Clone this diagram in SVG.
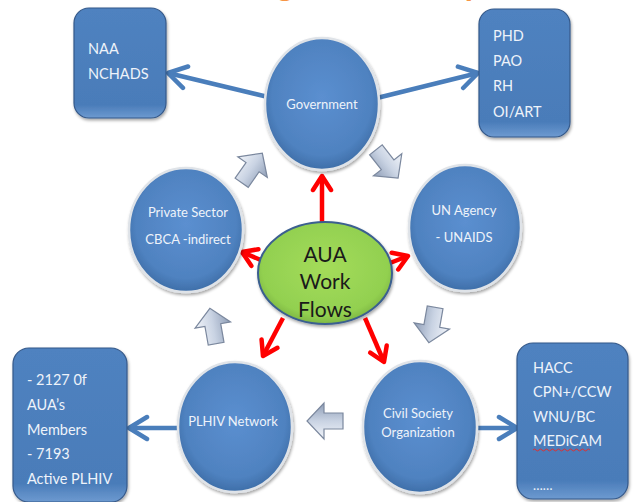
<svg xmlns="http://www.w3.org/2000/svg" width="638" height="502" viewBox="0 0 638 502">
<defs>
<radialGradient id="gBlue" cx="50%" cy="45%" r="55%">
<stop offset="0" stop-color="#5b8fd0"/>
<stop offset="0.8" stop-color="#4f82c0"/>
<stop offset="1" stop-color="#3e6ea8"/>
</radialGradient>
<radialGradient id="gGreen" cx="50%" cy="45%" r="55%">
<stop offset="0" stop-color="#a4dc5a"/>
<stop offset="0.85" stop-color="#92d050"/>
<stop offset="1" stop-color="#7fb844"/>
</radialGradient>
<linearGradient id="gBox" x1="0" y1="0" x2="0" y2="1">
<stop offset="0" stop-color="#4f82c0"/>
<stop offset="0.88" stop-color="#4a7cb9"/>
<stop offset="1" stop-color="#6d9ad0"/>
</linearGradient>
<linearGradient id="gBlock" x1="0" y1="0" x2="0" y2="1">
<stop offset="0" stop-color="#f2f5fa"/>
<stop offset="0.5" stop-color="#c9d3e3"/>
<stop offset="1" stop-color="#8e9db6"/>
</linearGradient>
<filter id="sh" x="-20%" y="-20%" width="140%" height="140%">
<feDropShadow dx="1" dy="2" stdDeviation="1.5" flood-color="#000" flood-opacity="0.35"/>
</filter>
<marker id="mBlue" markerUnits="userSpaceOnUse" markerWidth="24" markerHeight="28" viewBox="0 0 24 28" refX="21" refY="14" orient="auto">
<path d="M3,3 L21,14 L3,25" fill="none" stroke="#4a7ebb" stroke-width="4.5" stroke-linecap="round" stroke-linejoin="round"/>
</marker>
<marker id="mRed" markerUnits="userSpaceOnUse" markerWidth="20" markerHeight="24" viewBox="0 0 20 24" refX="17" refY="12" orient="auto">
<path d="M3,3 L17,12 L3,21" fill="none" stroke="#ff0000" stroke-width="4.5" stroke-linecap="round" stroke-linejoin="round"/>
</marker>
<polygon id="blk" points="-18,-8 1,-8 1,-18 18,0 1,18 1,8 -18,8"/>
</defs>
<style>
.ell{fill:url(#gBlue);stroke:#dfe3e8;stroke-width:2.5;filter:url(#sh)}
.box{fill:url(#gBox);stroke:#35598a;stroke-width:1.2;filter:url(#sh)}
.t{font-family:Lato,"Liberation Sans",sans-serif;fill:#eef3fa}
.c{text-anchor:middle;font-size:13px}
.b{font-size:14.5px}
.blue{stroke:#4a7ebb;stroke-width:4.5;fill:none;marker-end:url(#mBlue)}
.red{stroke:#ff0000;stroke-width:4.5;fill:none;marker-end:url(#mRed)}
.blk use{fill:url(#gBlock);stroke:#7b889e;stroke-width:1.2}
</style>

<text x="168" y="-4" font-family="Lato,'Liberation Sans',sans-serif" font-weight="bold" font-size="33" fill="#f79646">Working Relationship</text>

<g id="connectors">
<line class="blue" x1="268" y1="97" x2="168" y2="73"/>
<line class="blue" x1="377" y1="98" x2="478" y2="73"/>
<line class="blue" x1="180" y1="428" x2="129" y2="428"/>
<line class="blue" x1="476" y1="428" x2="517" y2="428"/>
<line class="red" x1="322" y1="222" x2="322" y2="176"/>
<line class="red" x1="263" y1="261" x2="242" y2="252"/>
<line class="red" x1="390" y1="263" x2="408" y2="256"/>
<line class="red" x1="283" y1="318" x2="263" y2="356"/>
<line class="red" x1="365" y1="318" x2="384" y2="362"/>
</g>

<g id="blockArrows" class="blk">
<use href="#blk" transform="translate(252,168) rotate(-55)"/>
<use href="#blk" transform="translate(387,164) rotate(52)"/>
<use href="#blk" transform="translate(432,325) rotate(100)"/>
<use href="#blk" transform="translate(325,421) rotate(180)"/>
<use href="#blk" transform="translate(213,326) rotate(-100)"/>
</g>

<g id="boxNAA">
<rect class="box" x="74" y="8" width="92" height="110" rx="15"/>
<text class="t b" x="88" y="54">NAA</text>
<text class="t b" x="88" y="79">NCHADS</text>
</g>

<g id="boxPHD">
<rect class="box" x="479" y="9" width="91" height="128" rx="15"/>
<text class="t b" x="493" y="41">PHD</text>
<text class="t b" x="493" y="66">PAO</text>
<text class="t b" x="493" y="91">RH</text>
<text class="t b" x="493" y="117">OI/ART</text>
</g>

<g id="boxMembers">
<rect class="box" x="13" y="348" width="114" height="154" rx="16"/>
<text class="t b" x="27" y="385">- 2127  0f</text>
<text class="t b" x="27" y="410">AUA’s</text>
<text class="t b" x="27" y="435">Members</text>
<text class="t b" x="27" y="459">- 7193</text>
<text class="t b" x="27" y="484">Active PLHIV</text>
</g>

<g id="boxHACC">
<rect class="box" x="517" y="343" width="111" height="156" rx="16"/>
<text class="t b" x="533" y="373">HACC</text>
<text class="t b" x="533" y="397">CPN+/CCW</text>
<text class="t b" x="533" y="422">WNU/BC</text>
<text class="t b" x="533" y="446">MEDiCAM</text>
<path d="M533,450 q1.5,-2 3,0 t3,0 t3,0 t3,0 t3,0 t3,0 t3,0 t3,0 t3,0 t3,0 t3,0 t3,0 t3,0 t3,0 t3,0 t3,0 t3,0 t3,0 t3,0" fill="none" stroke="#e03030" stroke-width="1"/>
<text class="t" x="533" y="490" font-size="13">……</text>
</g>

<g id="government">
<ellipse class="ell" cx="322" cy="104" rx="57" ry="66"/>
<text class="t c" x="322" y="109">Government</text>
</g>

<g id="privateSector">
<ellipse class="ell" cx="186" cy="230" rx="57" ry="62"/>
<text class="t c" x="188" y="217">Private Sector</text>
<text class="t c" x="188" y="244">CBCA -indirect</text>
</g>

<g id="unAgency">
<ellipse class="ell" cx="465" cy="228" rx="56" ry="63"/>
<text class="t c" x="464" y="215">UN Agency</text>
<text class="t c" x="464" y="242">- UNAIDS</text>
</g>

<g id="plhivNetwork">
<ellipse class="ell" cx="235" cy="427" rx="57" ry="65"/>
<text class="t c" x="233" y="426">PLHIV Network</text>
</g>

<g id="civilSociety">
<ellipse class="ell" cx="420" cy="427" rx="57" ry="66"/>
<text class="t c" x="418" y="418">Civil Society</text>
<text class="t c" x="418" y="437">Organization</text>
</g>

<g id="aua">
<ellipse cx="325" cy="273" rx="67" ry="51" fill="url(#gGreen)" stroke="#3b5f8f" stroke-width="2" filter="url(#sh)"/>
<text x="325" y="262" text-anchor="middle" font-family="Lato,'Liberation Sans',sans-serif" font-size="21" fill="#1a1a1a">AUA</text>
<text x="325" y="289" text-anchor="middle" font-family="Lato,'Liberation Sans',sans-serif" font-size="21" fill="#1a1a1a">Work</text>
<text x="325" y="317" text-anchor="middle" font-family="Lato,'Liberation Sans',sans-serif" font-size="21" fill="#1a1a1a">Flows</text>
</g>
</svg>
